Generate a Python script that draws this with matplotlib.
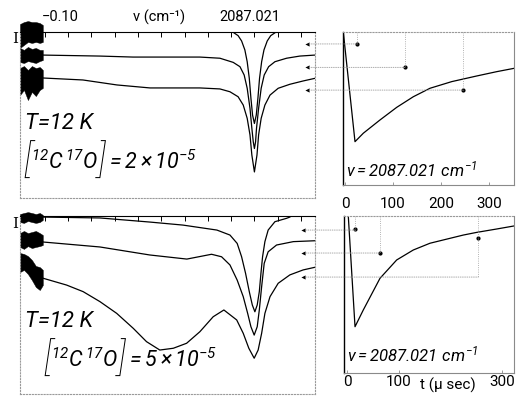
"""
12C17O 시간분해 흡수 스펙트럼 재현
- 왼쪽: Δν 스캔 (3개 지연시간), 오른쪽: ν = 2087.021 cm-1 에서의 시간 변화
"""
import matplotlib
matplotlib.use("Agg")
import matplotlib.pyplot as plt
import matplotlib.ticker as mticker
from matplotlib.patches import ConnectionPatch
from matplotlib.offsetbox import TextArea, HPacker, AnnotationBbox

plt.rcParams["font.family"] = ["Roboto", "DejaVu Sans"]
plt.rcParams["mathtext.fontset"] = "custom"
plt.rcParams["mathtext.rm"] = "Roboto:italic"
plt.rcParams["mathtext.it"] = "Roboto:italic"
plt.rcParams["mathtext.default"] = "it"

# ── 데이터: Δν (cm-1, 2087.021 기준), 세기 (임의 단위) ──────────
NOISE_X = [-0.1006, -0.0989, -0.0972, -0.0955, -0.0938, -0.0921, -0.0908]

# [12C17O] = 2e-5
TOP_C1_X = [-0.0908, -0.0449, -0.0191, -0.0091, -0.0070, -0.0055, -0.0041, -0.0031, -0.0022,
            -0.0015, -0.0008, 0.0, 0.0008, 0.0015, 0.0022, 0.0031, 0.0041, 0.0055, 0.0070,
            0.0091, 0.0182]
TOP_C1_Y = [100, 100, 99.8, 99.8, 97.8, 94.6, 89.2, 82.1, 72.1, 60.1, 50.0, 44.9, 50.0, 60.1,
            72.1, 82.1, 89.2, 94.6, 97.8, 99.8, 100]
TOP_C2_X = [-0.0908, -0.0663, -0.0521, -0.0234, -0.0148, -0.0091, -0.0062, -0.0044, -0.0031,
            -0.0019, -0.0011, -0.0005, 0.0, 0.0005, 0.0009, 0.0018, 0.0029, 0.0042, 0.0061,
            0.0088, 0.0138, 0.0195, 0.0260]
TOP_C2_Y = [86.1, 85.5, 84.9, 84.9, 84.2, 81.7, 79.1, 74.1, 66.1, 54.0, 42.0, 33.9, 29.8, 33.9,
            42.0, 54.0, 66.1, 74.1, 79.1, 82.1, 84.2, 85.5, 86.1]
TOP_C3_X = [-0.0908, -0.0736, -0.0590, -0.0448, -0.0234, -0.0148, -0.0105, -0.0070, -0.0048,
            -0.0031, -0.0019, -0.0011, 0.0, 0.0011, 0.0018, 0.0029, 0.0045, 0.0067, 0.0102,
            0.0152, 0.0209, 0.0260]
TOP_C3_Y = [72.3, 71.1, 68.1, 66.3, 66.3, 65.7, 64.0, 61.0, 56.0, 48.0, 38.0, 25.9, 15.7, 25.9,
            38.0, 48.0, 56.0, 62.0, 66.1, 68.5, 70.5, 72.1]
TOP_NOISE = [
    ([104.8, 106.0, 106.6, 106.0, 106.0, 105.4, 104.2], [90.4, 92.2, 94.0, 93.4, 94.0, 93.4, 94.0]),
    ([90.4, 89.2, 91.0, 89.8, 90.4, 89.2, 89.2], [81.9, 81.3, 82.5, 81.9, 81.3, 82.5, 83.1]),
    ([78.3, 79.5, 77.1, 79.5, 78.3, 78.9, 77.1], [62.0, 65.1, 59.0, 63.9, 61.4, 65.1, 66.3]),
]

# [12C17O] = 5e-5
BOT_C1_X = [-0.0908, -0.0663, -0.0449, -0.0307, -0.0161, -0.0105, -0.0074, -0.0055, -0.0038,
            -0.0022, -0.0009, 0.0002, 0.0012, 0.0021, 0.0028, 0.0035, 0.0045, 0.0059, 0.0088,
            0.0138, 0.0152]
BOT_C1_Y = [99.4, 98.9, 96.6, 94.9, 92.1, 89.3, 84.6, 77.1, 67.8, 57.5, 50.0, 46.2, 50.0, 57.5,
            67.8, 77.1, 85.6, 92.1, 96.8, 98.7, 99.4]
BOT_C2_X = [-0.0908, -0.0663, -0.0449, -0.0290, -0.0184, -0.0141, -0.0105, -0.0074, -0.0048,
            -0.0029, -0.0015, -0.0001, 0.0012, 0.0021, 0.0031, 0.0042, 0.0059, 0.0095, 0.0167,
            0.0260]
BOT_C2_Y = [85.4, 82.6, 78.1, 75.8, 78.5, 77.1, 72.5, 64.0, 54.7, 45.3, 37.8, 33.1, 37.8, 47.2,
            60.3, 73.4, 79.9, 83.7, 85.6, 86.1]
BOT_C3_X = [-0.0906, -0.0806, -0.0735, -0.0663, -0.0591, -0.0520, -0.0463, -0.0406, -0.0348,
            -0.0291, -0.0234, -0.0177, -0.0131, -0.0076, -0.0048, -0.0024, -0.0001, 0.0016,
            0.0031, 0.0045, 0.0067, 0.0102, 0.0152, 0.0209, 0.0260]
BOT_C3_Y = [65.0, 61.2, 57.5, 51.9, 45.3, 36.9, 29.4, 24.7, 25.7, 28.5, 35.0, 43.4, 47.2, 41.6,
            34.1, 25.7, 20.1, 24.7, 34.1, 45.3, 54.7, 62.2, 66.9, 69.7, 71.2]
BOT_NOISE = [
    ([101.1, 101.7, 102.2, 101.7, 101.1, 101.7, 100.6], [96.6, 96.1, 97.2, 96.6, 96.1, 96.6, 97.8]),
    ([90.4, 91.6, 90.4, 91.0, 91.6, 90.4, 89.3], [82.6, 81.5, 83.1, 82.0, 82.6, 83.1, 83.7]),
    ([79.2, 78.7, 77.5, 75.3, 71.9, 71.3, 69.7], [68.5, 69.7, 67.4, 64.0, 60.1, 58.4, 61.2]),
]

# ν = 2087.021 cm-1 시간 변화 (t: μs)
TR_T = [-3.5, 20.8, 38.1, 72.9, 107.7, 142.3, 177.1, 222.3, 274.4, 316.0, 352.0]
TR_V = [99.8, 33.9, 39.0, 47.0, 54.6, 61.0, 66.1, 70.1, 73.5, 76.1, 78.1]
TR_DOT_T = [24, 125, 246]
TR_DOT_V = [92.8, 78.7, 65.0]
TOP_ARROW_V = [92.8, 78.7, 65.0]

BR_T = [2.5, 15.5, 31.5, 63.8, 96.1, 128.2, 160.5, 225.0, 250.9, 289.6, 323.0]
BR_V = [100.0, 37.8, 47.2, 65.0, 75.3, 80.9, 84.7, 89.3, 90.8, 92.7, 94.4]
BR_DOT_T = [15.5, 63.8, 254]
BR_DOT_V = [92.5, 79.4, 87.5]
BOT_ARROW_V = [92.1, 79.2, 65.7]

W, H = 518, 396
fig = plt.figure(figsize=(W / 100, H / 100), dpi=100)


def px_axes(x0, x1, y0, y1):
    """픽셀 박스(위에서부터 y) -> add_axes"""
    return fig.add_axes([x0 / W, 1 - y1 / H, (x1 - x0) / W, (y1 - y0) / H])


def conc_label(ax, value, xy):
    """[12C17O] = value, 큰 괄호 포함"""
    big = dict(fontsize=27, style="italic", weight="light")
    parts = [TextArea("[", textprops=big),
             TextArea(r"${}^{12}C\,{}^{17}O$", textprops=dict(fontsize=15.5)),
             TextArea("]", textprops=big),
             TextArea(rf"$={value}$", textprops=dict(fontsize=15.5))]
    box = HPacker(children=parts, align="center", pad=0, sep=0)
    ab = AnnotationBbox(box, xy, xycoords=ax.transAxes, frameon=False,
                        box_alignment=(0, 0.5), pad=0)
    ax.add_artist(ab)


# ── 1. 스펙트럼 패널 ─────────────────────────────────────
def spectrum_panel(ax, curves, noise, arrow_v, arrow_x, top_labels):
    for xs, ys in curves:
        ax.plot(xs, ys, color="black", lw=0.9)
    for upper, lower in noise:
        ax.fill_between(NOISE_X, lower, upper, color="black", lw=0.3, clip_on=False)
    ax.plot([arrow_x] * len(arrow_v), arrow_v, "<", color="black", ms=3, mew=0)

    ax.set_xlim(-0.1006, 0.026)
    ax.set_ylim(0, 100)
    ax.xaxis.set_major_locator(mticker.MultipleLocator(0.01))
    ax.tick_params(axis="x", top=True, bottom=False, direction="in", length=3.5,
                   width=0.7, labeltop=False, labelbottom=False)
    ax.set_yticks([])
    ax.spines["top"].set_linewidth(0.8)
    for side in ("left", "right", "bottom"):
        ax.spines[side].set_color("#9a9a9a")
        ax.spines[side].set_linestyle(":")
        ax.spines[side].set_linewidth(0.8)

    if top_labels:
        tr = ax.get_xaxis_transform()
        ax.text(-0.0912, 1.09, "\u22120.10", transform=tr, ha="left", va="center", fontsize=10.5)
        ax.text(-0.041, 1.09, "\u03bd (cm\u207b\u00b9)", transform=tr,
                ha="center", va="center", fontsize=10.5)
        ax.text(-0.002, 1.09, "2087.021", transform=tr, ha="center", va="center", fontsize=10.5)


ax_tl = px_axes(20, 315, 32, 198)
spectrum_panel(ax_tl, [(TOP_C1_X, TOP_C1_Y), (TOP_C2_X, TOP_C2_Y), (TOP_C3_X, TOP_C3_Y)],
               TOP_NOISE, TOP_ARROW_V, 0.0225, True)
ax_tl.text(-0.017, 0.96, "I", transform=ax_tl.transAxes, family="DejaVu Serif",
           fontsize=11, ha="center", va="center")
ax_tl.text(0.017, 0.45, "T=12 K", transform=ax_tl.transAxes, fontsize=16,
           style="italic", ha="left", va="center")
conc_label(ax_tl, r"2\times10^{-5}", (0.012, 0.215))

ax_bl = px_axes(20, 315, 216, 394)
spectrum_panel(ax_bl, [(BOT_C1_X, BOT_C1_Y), (BOT_C2_X, BOT_C2_Y), (BOT_C3_X, BOT_C3_Y)],
               BOT_NOISE, BOT_ARROW_V, 0.021, False)
ax_bl.text(-0.017, 0.955, "I", transform=ax_bl.transAxes, family="DejaVu Serif",
           fontsize=11, ha="center", va="center")
ax_bl.text(0.017, 0.405, "T=12 K", transform=ax_bl.transAxes, fontsize=16,
           style="italic", ha="left", va="center")
conc_label(ax_bl, r"5\times10^{-5}", (0.08, 0.19))


# ── 2. 시간 변화 패널 ────────────────────────────────────
def time_panel(ax, ts, vs, dot_t, dot_v, arrow_v, left_ax, arrow_x, xlim, ylim):
    ax.plot(ts, vs, color="black", lw=0.9)
    ax.plot(dot_t, dot_v, "o", color="black", ms=2)
    ax.set_xlim(*xlim)
    ax.set_ylim(*ylim)
    for t, lv in zip(dot_t, arrow_v):
        ax.plot([t, t], [ylim[1], lv], color="#9a9a9a", lw=0.6, ls=":")
        con = ConnectionPatch(xyA=(arrow_x + 0.001, lv), coordsA=left_ax.transData,
                              xyB=(t, lv), coordsB=ax.transData,
                              color="#9a9a9a", lw=0.6, ls=":")
        fig.add_artist(con)
    ax.set_yticks([])
    ax.spines["left"].set_linewidth(1.0)
    ax.spines["top"].set_color("#9a9a9a")
    ax.spines["top"].set_linestyle(":")
    for side in ("right", "bottom"):
        ax.spines[side].set_color("#8a8a8a")
        ax.spines[side].set_linewidth(0.8)
    ax.tick_params(axis="x", direction="in", length=2.5, width=0.6, color="#8a8a8a",
                   labelsize=11)
    ax.text(0.02, 0.1 if ylim[0] < 10 else 0.115, r"$\nu = 2087.021\ cm^{-1}$",
            transform=ax.transAxes, fontsize=12, ha="left", va="center")


ax_tr = px_axes(343, 514, 32, 185)
time_panel(ax_tr, TR_T, TR_V, TR_DOT_T, TR_DOT_V, TOP_ARROW_V, ax_tl, 0.0225,
           (-4.2, 352), (7.8, 100))
ax_tr.set_xticks([0, 100, 200, 300])
ax_tr.tick_params(axis="x", pad=9)

ax_br = px_axes(344, 514, 216, 373)
time_panel(ax_br, BR_T, BR_V, BR_DOT_T, BR_DOT_V, BOT_ARROW_V, ax_bl, 0.021,
           (-5.8, 323), (11.8, 100))
ax_br.set_xticks([0, 100, 300])
ax_br.tick_params(axis="x", pad=1.5)
ax_br.text(195, -0.03, "t (\u03bc sec)", transform=ax_br.get_xaxis_transform(),
           fontsize=11, ha="center", va="top")

fig.savefig("out.png", dpi=100)
